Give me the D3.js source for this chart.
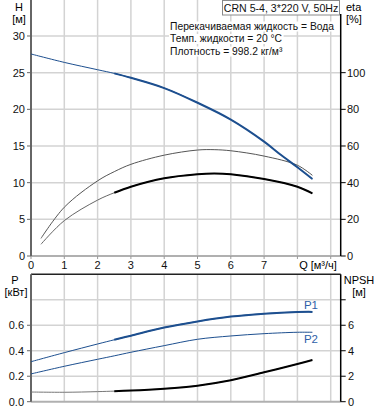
<!DOCTYPE html>
<html><head><meta charset="utf-8">
<script src="https://cdn.jsdelivr.net/npm/d3@7"></script>
<style>body{margin:0;background:#fff}svg{display:block}text{font-family:"Liberation Sans",Arial,sans-serif}</style>
</head><body><svg id="c" width="378" height="410"></svg>
<script>
// ---- data ----
const qTicks = [0,1,2,3,4,5,6,7];
const qH   = [0,1,2,2.5,3,4,5,6,7,7.5,8,8.45];
const head = [27.55,26.4,25.4,24.9,24.3,22.9,20.9,18.6,15.6,13.8,12.1,10.5];
const qEta = [0.3,1,2,2.5,3,4,5,5.5,6,7,8,8.45];
const etaTotal = [9.6,26.6,41,46,50,55,57.8,58,57.4,54.5,49.5,44];
const etaPump  = [6.4,19.3,30.5,34.5,37.8,42.4,44.6,45,44.6,42,37.8,34.2];
const qP = [0,1,2,2.5,3,4,5,6,7,8,8.45];
const p1 = [0.314,0.385,0.453,0.486,0.518,0.582,0.63,0.668,0.691,0.704,0.705];
const p2 = [0.218,0.278,0.333,0.36,0.388,0.44,0.49,0.516,0.534,0.545,0.545];
const npsh = [0.76,0.74,0.79,0.83,0.87,1.02,1.26,1.68,2.31,2.96,3.28];
const hTicks = [0,5,10,15,20,25,30];
const etaTicks = [0,20,40,60,80,100];
const pTicks = [0,0.2,0.4,0.6];
const npshTicks = [0,2,4,6];
const title = "CRN 5-4, 3*220 V, 50Hz";
const info = ["Перекачиваемая жидкость = Вода","Темп. жидкости = 20 °C","Плотность = 998.2 кг/м³"];

const svg = d3.select("#c");
const L = 31, R = 340.7;
const x = d3.scaleLinear().domain([0,9.3]).range([L,R]);
const yH = d3.scaleLinear().domain([0,35]).range([256,-0.67]);
const yEta = d3.scaleLinear().domain([0,140]).range([256,-0.67]);
const yP = d3.scaleLinear().domain([0,1]).range([401.7,274.3]);
const yN = d3.scaleLinear().domain([0,10]).range([401.7,274.3]);
const grid = "#d3d3d3", blue = "#1d4f8f", fs = 11;

// ---------- top chart grid ----------
const gT = svg.append("g");
gT.selectAll(".vg").data(d3.range(1,10)).join("line")
  .attr("x1",d=>x(d)).attr("x2",d=>x(d)).attr("y1",0).attr("y2",256)
  .attr("stroke",grid).attr("stroke-width",1.5);
gT.selectAll(".hg").data([5,10,15,20,25,30,35]).join("line")
  .attr("x1",L).attr("x2",R).attr("y1",d=>yH(d)).attr("y2",d=>yH(d))
  .attr("stroke",grid).attr("stroke-width",1.5);
gT.append("line").attr("x1",L).attr("x2",R).attr("y1",256).attr("y2",256).attr("stroke","#b0b0b0").attr("stroke-width",2);
gT.selectAll(".xt").data(d3.range(0,10)).join("line")
  .attr("x1",d=>x(d)).attr("x2",d=>x(d)).attr("y1",256).attr("y2",259).attr("stroke","#999");

// info text with white background
const gInfo = gT.append("g");
info.forEach((t,i)=>{
  const tx = gInfo.append("text").attr("x",170).attr("y",29.5+i*12.5).attr("font-size",10.3).attr("fill","#111").text(t);
  const bb = tx.node().getBBox();
  gInfo.insert("rect","text").attr("x",bb.x-1).attr("y",bb.y+1).attr("width",bb.width+2).attr("height",bb.height-1).attr("fill","#fff");
});

// left axis
gT.append("line").attr("x1",L).attr("x2",L).attr("y1",0).attr("y2",256).attr("stroke","#666").attr("stroke-width",2);
gT.selectAll(".hl").data(hTicks).join("text").attr("x",25).attr("y",d=>yH(d)+4).attr("text-anchor","end")
  .attr("font-size",fs).attr("fill","#111").text(d=>d);
gT.selectAll(".htk").data(hTicks).join("line").attr("x1",L-4).attr("x2",L).attr("y1",d=>yH(d)).attr("y2",d=>yH(d)).attr("stroke","#666");
gT.append("text").attr("x",19).attr("y",11).attr("text-anchor","middle").attr("font-size",fs).text("H");
gT.append("text").attr("x",19).attr("y",23).attr("text-anchor","middle").attr("font-size",fs).text("[м]");
// right axis
gT.append("line").attr("x1",R).attr("x2",R).attr("y1",14).attr("y2",256).attr("stroke","#000").attr("stroke-width",1.5);
gT.selectAll(".etk").data(etaTicks).join("line").attr("x1",R).attr("x2",R+5).attr("y1",d=>yEta(d)).attr("y2",d=>yEta(d)).attr("stroke","#000");
gT.selectAll(".el").data(etaTicks).join("text").attr("x",347).attr("y",d=>yEta(d)+4).attr("font-size",fs).attr("fill","#111").text(d=>d);
gT.append("text").attr("x",346).attr("y",11).attr("font-size",fs).text("eta");
gT.append("text").attr("x",346).attr("y",23).attr("font-size",fs).text("[%]");
// x labels
gT.selectAll(".xl").data(qTicks).join("text").attr("x",d=>x(d)).attr("y",269).attr("text-anchor","middle")
  .attr("font-size",fs).attr("fill","#111").text(d=>d);
gT.append("text").attr("x",318).attr("y",269).attr("text-anchor","middle").attr("font-size",fs).text("Q [м³/ч]");

// curves
const lineGen = (ysc)=>d3.line().x(d=>x(d[0])).y(d=>ysc(d[1])).curve(d3.curveCatmullRom.alpha(0.5));
function drawCurve(g, xs, ys, ysc, thinColor, thickColor, split, thinW, thickW){
  const pts = xs.map((q,i)=>[q,ys[i]]);
  const line = lineGen(ysc);
  g.append("path").attr("d",line(pts)).attr("fill","none").attr("stroke",thinColor).attr("stroke-width",thinW);
  if(split!=null){
    g.append("path").attr("d",line(pts.filter(p=>p[0]>=split))).attr("fill","none").attr("stroke",thickColor).attr("stroke-width",thickW);
  }
}
drawCurve(gT,qEta,etaTotal,yEta,"#555",null,null,1);
drawCurve(gT,qEta,etaPump,yEta,"#666","#000",2.5,1,2);
drawCurve(gT,qH,head,yH,blue,blue,2.5,1,2);

// title box (on top)
gT.append("rect").attr("x",222.5).attr("y",0.5).attr("width",117).attr("height",14.5).attr("fill","#fff").attr("stroke","#8a8a8a").attr("stroke-width",1);
gT.append("text").attr("x",281).attr("y",11.5).attr("text-anchor","middle").attr("font-size",10.6).attr("fill","#111").text(title);

// ---------- bottom chart ----------
const gB = svg.append("g");
gB.selectAll(".vg").data(d3.range(1,10)).join("line")
  .attr("x1",d=>x(d)).attr("x2",d=>x(d)).attr("y1",274.3).attr("y2",401.7)
  .attr("stroke",grid).attr("stroke-width",1.5);
gB.selectAll(".hg").data([0.2,0.4,0.6,0.8]).join("line")
  .attr("x1",L).attr("x2",R).attr("y1",d=>yP(d)).attr("y2",d=>yP(d))
  .attr("stroke",grid).attr("stroke-width",1.5);
gB.append("line").attr("x1",L).attr("x2",R).attr("y1",401.7).attr("y2",401.7).attr("stroke","#b0b0b0").attr("stroke-width",2);
gB.append("line").attr("x1",L).attr("x2",R).attr("y1",274.3).attr("y2",274.3).attr("stroke","#222").attr("stroke-width",1.5);
gB.append("line").attr("x1",L).attr("x2",L).attr("y1",274.3).attr("y2",401.7).attr("stroke","#666").attr("stroke-width",2);
gB.append("line").attr("x1",R).attr("x2",R).attr("y1",274.3).attr("y2",401.7).attr("stroke","#000").attr("stroke-width",1.5);
gB.selectAll(".pl").data(pTicks).join("text").attr("x",24).attr("y",d=>yP(d)+4).attr("text-anchor","end")
  .attr("font-size",fs).attr("fill","#111").text(d=>d.toFixed(1));
gB.selectAll(".ptk").data(pTicks).join("line").attr("x1",L-4).attr("x2",L).attr("y1",d=>yP(d)).attr("y2",d=>yP(d)).attr("stroke","#666");
gB.append("text").attr("x",15).attr("y",284).attr("text-anchor","middle").attr("font-size",fs).text("P");
gB.append("text").attr("x",16).attr("y",296).attr("text-anchor","middle").attr("font-size",fs).text("[кВт]");
gB.selectAll(".ntk").data([0,2,4,6,8]).join("line").attr("x1",R).attr("x2",R+5).attr("y1",d=>yN(d)).attr("y2",d=>yN(d)).attr("stroke","#000");
gB.selectAll(".nl").data(npshTicks).join("text").attr("x",348).attr("y",d=>yN(d)+4).attr("font-size",fs).attr("fill","#111").text(d=>d);
gB.append("text").attr("x",359).attr("y",284).attr("text-anchor","middle").attr("font-size",fs).text("NPSH");
gB.append("text").attr("x",359).attr("y",296).attr("text-anchor","middle").attr("font-size",fs).text("[м]");

drawCurve(gB,qP,npsh,yN,"#777","#000",2.5,1,2);
drawCurve(gB,qP,p2,yP,blue,null,null,1);
drawCurve(gB,qP,p1,yP,blue,blue,2.5,1,2);
gB.append("text").attr("x",311).attr("y",309).attr("text-anchor","middle").attr("font-size",11.5).attr("fill","#2f5fa8").text("P1");
gB.append("text").attr("x",311).attr("y",343).attr("text-anchor","middle").attr("font-size",11.5).attr("fill","#2f5fa8").text("P2");
</script></body></html>
